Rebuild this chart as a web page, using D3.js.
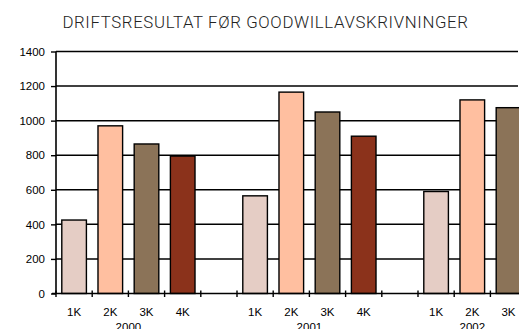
<!DOCTYPE html>
<html>
<head>
<meta charset="utf-8">
<script src="https://cdn.jsdelivr.net/npm/d3@7"></script>
<style>
  html, body { margin: 0; padding: 0; background: #fff; }
  svg { display: block; }
</style>
</head>
<body>
<svg id="chart" width="519" height="329"></svg>
<script>
// Operating result before goodwill amortisation, per quarter
const years = ["2000", "2001", "2002"];
const quarters = ["1K", "2K", "3K", "4K"];
const values2000 = [425, 970, 865, 795];
const values2001 = [565, 1165, 1050, 910];
const values2002 = [590, 1120, 1075];
const yTicks = [0, 200, 400, 600, 800, 1000, 1200, 1400];
const quarterColors = ["#e5cdc5", "#ffbfa0", "#8b7358", "#8b321b"];
const title = "DRIFTSRESULTAT FØR GOODWILLAVSKRIVNINGER";

(function () {
  const seriesByYear = [values2000, values2001, values2002];

  // Slot sequence: quarters of each year, one empty slot between years
  const slots = [];
  seriesByYear.forEach((vals, yi) => {
    vals.forEach((v, qi) => slots.push({ key: years[yi] + "-" + quarters[qi], year: years[yi], q: qi, label: quarters[qi], value: v }));
    if (yi < years.length - 1) slots.push({ key: "gap-" + yi, gap: true });
  });

  const svg = d3.select("#chart");
  const plotLeft = 56, plotBottom = 293.5, plotTop = 51.5, step = 36.2;
  const plotRight = plotLeft + step * slots.length;

  const x = d3.scaleBand()
    .domain(slots.map(d => d.key))
    .range([plotLeft, plotRight])
    .paddingInner(0.32)
    .paddingOuter(0.16);

  const y = d3.scaleLinear().domain([0, 1400]).range([plotBottom, plotTop]);

  // Title
  svg.append("text")
    .attr("x", 265.5).attr("y", 27.5)
    .attr("text-anchor", "middle")
    .attr("font-family", "Roboto, 'Liberation Sans', sans-serif")
    .attr("font-weight", 300)
    .attr("font-size", 16.8)
    .attr("letter-spacing", 0.65)
    .attr("fill", "#222")
    .text(title);

  // Horizontal gridlines
  svg.append("g").selectAll("line")
    .data(yTicks.filter(t => t > 0))
    .join("line")
    .attr("x1", plotLeft).attr("x2", 518)
    .attr("y1", d => y(d)).attr("y2", d => y(d))
    .attr("stroke", "#000").attr("stroke-width", 1.5);

  // Bars
  const dataSlots = slots.filter(d => !d.gap);
  svg.append("g").selectAll("rect")
    .data(dataSlots)
    .join("rect")
    .attr("x", d => x(d.key))
    .attr("width", x.bandwidth())
    .attr("y", d => y(d.value))
    .attr("height", d => y(0) - y(d.value))
    .attr("fill", d => quarterColors[d.q])
    .attr("stroke", "#000")
    .attr("stroke-width", 1.4);

  // Y axis
  const yAxis = d3.axisLeft(y).tickValues(yTicks).tickSize(5).tickPadding(6).tickFormat(d3.format("d"));
  const gy = svg.append("g").attr("transform", `translate(${plotLeft},0)`).call(yAxis);
  gy.select(".domain").attr("stroke", "#000").attr("stroke-width", 1.6).attr("d", `M0,${plotTop}V${plotBottom}`);
  gy.selectAll(".tick line").attr("stroke", "#000").attr("stroke-width", 1.4);
  gy.selectAll(".tick text")
    .attr("font-family", "Arial, 'Liberation Sans', sans-serif")
    .attr("font-size", 11.5).attr("fill", "#000");

  // X axis line with ticks at slot boundaries
  const pad = x.step() * x.paddingInner() / 2;
  const boundaries = slots.map(d => x(d.key) - pad).concat([plotRight]);
  svg.append("line")
    .attr("x1", plotLeft - 4).attr("x2", 519)
    .attr("y1", plotBottom).attr("y2", plotBottom)
    .attr("stroke", "#000").attr("stroke-width", 1.6);
  svg.append("g").selectAll("line")
    .data(boundaries)
    .join("line")
    .attr("x1", d => d).attr("x2", d => d)
    .attr("y1", plotBottom - 3).attr("y2", plotBottom + 3.5)
    .attr("stroke", "#000").attr("stroke-width", 1.4);

  // Quarter labels
  svg.append("g").selectAll("text")
    .data(dataSlots)
    .join("text")
    .attr("x", d => x(d.key) + x.bandwidth() / 2)
    .attr("y", 315.5)
    .attr("text-anchor", "middle")
    .attr("font-family", "Arial, 'Liberation Sans', sans-serif")
    .attr("font-size", 11.5)
    .text(d => d.label);

  // Year labels centred under their quarters
  svg.append("g").selectAll("text")
    .data(years)
    .join("text")
    .attr("x", yr => {
      const ks = dataSlots.filter(d => d.year === yr);
      const a = x(ks[0].key) - pad, b = x(ks[ks.length - 1].key) + x.bandwidth() + pad;
      return (a + b) / 2;
    })
    .attr("y", 330.5)
    .attr("text-anchor", "middle")
    .attr("font-family", "Arial, 'Liberation Sans', sans-serif")
    .attr("font-size", 11.5)
    .text(d => d);
})();
</script>
</body>
</html>
